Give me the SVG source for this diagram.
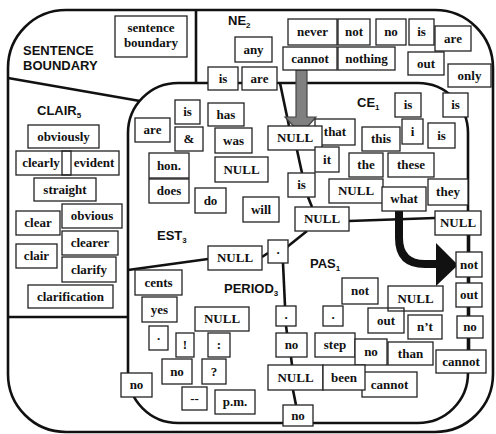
<svg xmlns="http://www.w3.org/2000/svg" width="496" height="434" viewBox="0 0 496 434">
<style>
.b rect{fill:#fff;stroke:#222;stroke-width:1.3}
.b text{font-family:"Liberation Serif",serif;font-weight:bold;font-size:13px;text-anchor:middle;fill:#111}
.lab{font-family:"Liberation Sans",Arial,sans-serif;font-weight:bold;font-size:13px;fill:#111}
.sub{font-size:8px}
.ln{fill:none;stroke:#111;stroke-width:2.6}
</style>
<rect width="496" height="434" fill="#fff"/>
<g id="regions">
<rect x="8" y="10" width="485" height="422" rx="58" class="ln"/>
<rect x="128" y="83" width="340" height="340" rx="50" class="ln"/>
</g>
<g id="connectors" class="ln">
<line x1="196" y1="10" x2="196" y2="83"/>
<line x1="8" y1="78" x2="140" y2="101"/>
<line x1="8" y1="317" x2="128" y2="317"/>
<line x1="280" y1="83" x2="289" y2="126"/>
<line x1="297" y1="150" x2="302" y2="173"/>
<line x1="308" y1="197" x2="312" y2="207"/>
<line x1="349" y1="221" x2="435" y2="218"/>
<line x1="307" y1="231" x2="287" y2="247"/>
<line x1="262" y1="257" x2="268" y2="253"/>
<line x1="128" y1="270" x2="208" y2="259"/>
<line x1="283" y1="263" x2="285" y2="306"/>
<line x1="286" y1="326" x2="287" y2="333"/>
<line x1="291" y1="357" x2="292" y2="365"/>
<line x1="293" y1="390" x2="296" y2="405"/>
<line x1="469" y1="235" x2="469" y2="350"/>
<path d="M399 211 V238 Q399 264 425 264 H440" stroke-width="8"/>
<polygon points="436,243 458,265 436,286" fill="#111" stroke="none"/>
<path d="M296 70 H307 V117 H316 L301 134 L285 117 H296 Z" fill="#808080" stroke="#444" stroke-width="1.2"/>
</g>
<g class="lab">
<text x="228" y="25">NE<tspan class="sub" dy="3">2</tspan></text>
<text x="23" y="55">SENTENCE</text>
<text x="23" y="70">BOUNDARY</text>
<text x="37" y="115">CLAIR<tspan class="sub" dy="3">5</tspan></text>
<text x="357" y="107">CE<tspan class="sub" dy="3">1</tspan></text>
<text x="157" y="240">EST<tspan class="sub" dy="3">3</tspan></text>
<text x="310" y="268">PAS<tspan class="sub" dy="3">1</tspan></text>
<text x="224" y="293">PERIOD<tspan class="sub" dy="3">3</tspan></text>
</g>
<g class="b">
<g id="sb"><rect x="115" y="16" width="72" height="41"/><text x="151" y="32">sentence</text><text x="151" y="47">boundary</text></g>
<g id="ne_any"><rect x="235" y="37" width="37" height="25"/><text x="253.5" y="54">any</text></g>
<g id="ne_is"><rect x="208" y="67" width="30" height="23"/><text x="223" y="83">is</text></g>
<g id="ne_are"><rect x="242" y="67" width="35" height="23"/><text x="259.5" y="83">are</text></g>
<g id="ne_never"><rect x="288" y="19" width="49" height="26"/><text x="312.5" y="36">never</text></g>
<g id="ne_not"><rect x="338" y="19" width="32" height="26"/><text x="354" y="36">not</text></g>
<g id="ne_no"><rect x="376" y="19" width="30" height="26"/><text x="391" y="36">no</text></g>
<g id="ne_is2"><rect x="409" y="19" width="25" height="26"/><text x="421.5" y="36">is</text></g>
<g id="ne_are2"><rect x="435" y="26" width="36" height="25"/><text x="453" y="43">are</text></g>
<g id="ne_cannot"><rect x="283" y="47" width="54" height="23"/><text x="310" y="63">cannot</text></g>
<g id="ne_nothing"><rect x="338" y="47" width="57" height="23"/><text x="366.5" y="63">nothing</text></g>
<g id="ne_out"><rect x="408" y="52" width="36" height="23"/><text x="426" y="68">out</text></g>
<g id="ne_only"><rect x="448" y="64" width="43" height="23"/><text x="469.5" y="80">only</text></g>

<g id="cl_obviously"><rect x="28" y="125" width="71" height="23"/><text x="63.5" y="141">obviously</text></g>
<g id="cl_clearly"><rect x="16" y="151" width="55" height="24"/><text x="41" y="167">clearly</text></g>
<g id="cl_evident"><rect x="62" y="151" width="57" height="24" style="fill:none"/><text x="94" y="167">evident</text></g>
<g id="cl_straight"><rect x="34" y="178" width="62" height="23"/><text x="65" y="194">straight</text></g>
<g id="cl_clear"><rect x="16" y="211" width="44" height="24"/><text x="38" y="227">clear</text></g>
<g id="cl_obvious"><rect x="62" y="204" width="60" height="24"/><text x="92" y="220">obvious</text></g>
<g id="cl_clearer"><rect x="62" y="231" width="56" height="24"/><text x="90" y="247">clearer</text></g>
<g id="cl_clair"><rect x="16" y="244" width="41" height="24"/><text x="36.5" y="260">clair</text></g>
<g id="cl_clarify"><rect x="62" y="257" width="54" height="25"/><text x="89" y="274">clarify</text></g>
<g id="cl_clarification"><rect x="28" y="285" width="85" height="23"/><text x="70.5" y="301">clarification</text></g>

<g id="est_are"><rect x="135" y="118" width="35" height="24"/><text x="152.5" y="134">are</text></g>
<g id="est_is"><rect x="175" y="100" width="25" height="24"/><text x="187.5" y="116">is</text></g>
<g id="est_amp"><rect x="175" y="127" width="28" height="24"/><text x="189" y="143">&amp;</text></g>
<g id="est_has"><rect x="208" y="103" width="36" height="23"/><text x="226" y="119">has</text></g>
<g id="est_was"><rect x="215" y="128" width="37" height="25"/><text x="233.5" y="145">was</text></g>
<g id="est_null"><rect x="215" y="157" width="53" height="25"/><text x="241.5" y="174">NULL</text></g>
<g id="est_hon"><rect x="149" y="153" width="40" height="25"/><text x="169" y="170">hon.</text></g>
<g id="est_does"><rect x="149" y="179" width="40" height="24"/><text x="169" y="195">does</text></g>
<g id="est_do"><rect x="195" y="188" width="31" height="25"/><text x="210.5" y="205">do</text></g>
<g id="est_will"><rect x="243" y="197" width="36" height="25"/><text x="261" y="214">will</text></g>

<g id="ce_that"><rect x="315" y="119" width="40" height="26"/><text x="335" y="136">that</text></g>
<g id="ch_null1"><rect x="268" y="126" width="54" height="24"/><text x="295" y="142">NULL</text></g>
<g id="ce_it"><rect x="315" y="147" width="24" height="25"/><text x="327" y="164">it</text></g>
<g id="ch_is"><rect x="288" y="173" width="27" height="24"/><text x="301.5" y="189">is</text></g>
<g id="ch_null2"><rect x="295" y="207" width="54" height="24"/><text x="322" y="223">NULL</text></g>
<g id="ce_is1"><rect x="395" y="93" width="26" height="24"/><text x="408" y="109">is</text></g>
<g id="ce_is2"><rect x="443" y="93" width="25" height="24"/><text x="455.5" y="109">is</text></g>
<g id="ce_i"><rect x="402" y="119" width="21" height="25"/><text x="412.5" y="136">i</text></g>
<g id="ce_this"><rect x="362" y="127" width="38" height="24"/><text x="381" y="143">this</text></g>
<g id="ce_is3"><rect x="428" y="123" width="27" height="25"/><text x="441.5" y="140">is</text></g>
<g id="ce_the"><rect x="349" y="153" width="34" height="24"/><text x="366" y="169">the</text></g>
<g id="ce_these"><rect x="388" y="153" width="46" height="24"/><text x="411" y="169">these</text></g>
<g id="ce_null"><rect x="329" y="179" width="54" height="24"/><text x="356" y="195">NULL</text></g>
<g id="ce_what"><rect x="382" y="187" width="44" height="24"/><text x="404" y="203">what</text></g>
<g id="ce_they"><rect x="428" y="179" width="40" height="26"/><text x="448" y="196">they</text></g>
<g id="ch_nullr"><rect x="435" y="211" width="46" height="24"/><text x="458" y="227">NULL</text></g>

<g id="r_not"><rect x="456" y="252" width="26" height="25"/><text x="469" y="269">not</text></g>
<g id="r_out"><rect x="456" y="283" width="26" height="24"/><text x="469" y="299">out</text></g>
<g id="r_no"><rect x="457" y="316" width="26" height="22"/><text x="470" y="331">no</text></g>
<g id="r_cannot"><rect x="436" y="350" width="50" height="23"/><text x="461" y="366">cannot</text></g>

<g id="pas_not"><rect x="342" y="278" width="36" height="26"/><text x="360" y="295">not</text></g>
<g id="pas_out"><rect x="368" y="308" width="36" height="25"/><text x="386" y="325">out</text></g>
<g id="pas_null"><rect x="388" y="286" width="55" height="25" style="fill:none"/><text x="415.5" y="303">NULL</text></g>
<g id="pas_nt"><rect x="408" y="315" width="34" height="24"/><text x="425" y="331">n’t</text></g>
<g id="pas_dot"><rect x="323" y="306" width="20" height="20"/><text x="333" y="319">.</text></g>
<g id="pas_step"><rect x="315" y="333" width="40" height="24"/><text x="335" y="349">step</text></g>
<g id="pas_no"><rect x="355" y="339" width="32" height="26"/><text x="371" y="356">no</text></g>
<g id="pas_than"><rect x="388" y="342" width="45" height="23"/><text x="410.5" y="358">than</text></g>
<g id="pas_cannot"><rect x="362" y="372" width="55" height="25"/><text x="389.5" y="389">cannot</text></g>

<g id="ch_dot1"><rect x="268" y="240" width="20" height="23"/><text x="278" y="254">.</text></g>
<g id="ch_null3"><rect x="208" y="246" width="54" height="24"/><text x="235" y="262">NULL</text></g>
<g id="ch_dot2"><rect x="276" y="306" width="20" height="20"/><text x="286" y="319">.</text></g>
<g id="ch_no"><rect x="276" y="333" width="31" height="24"/><text x="291.5" y="349">no</text></g>
<g id="ch_null4"><rect x="268" y="365" width="55" height="25"/><text x="295.5" y="382">NULL</text></g>
<g id="ch_been"><rect x="323" y="365" width="42" height="25"/><text x="344" y="382">been</text></g>
<g id="ch_no2"><rect x="283" y="405" width="30" height="21"/><text x="298" y="420">no</text></g>

<g id="pe_cents"><rect x="135" y="270" width="47" height="25"/><text x="158.5" y="287">cents</text></g>
<g id="pe_yes"><rect x="142" y="297" width="35" height="25"/><text x="159.5" y="314">yes</text></g>
<g id="pe_null"><rect x="195" y="307" width="54" height="24"/><text x="222" y="323">NULL</text></g>
<g id="pe_dot"><rect x="149" y="326" width="19" height="24"/><text x="158.5" y="340">.</text></g>
<g id="pe_excl"><rect x="176" y="333" width="18" height="24"/><text x="185" y="349">!</text></g>
<g id="pe_colon"><rect x="208" y="333" width="22" height="24"/><text x="219" y="349">:</text></g>
<g id="pe_no"><rect x="162" y="359" width="30" height="25"/><text x="177" y="376">no</text></g>
<g id="pe_q"><rect x="202" y="359" width="24" height="25"/><text x="214" y="376">?</text></g>
<g id="pe_dash"><rect x="182" y="387" width="25" height="23"/><text x="194.5" y="403">--</text></g>
<g id="pe_pm"><rect x="215" y="390" width="40" height="24"/><text x="235" y="406">p.m.</text></g>
<g id="pe_no2"><rect x="121" y="373" width="31" height="24"/><text x="136.5" y="389">no</text></g>
</g>
</svg>
